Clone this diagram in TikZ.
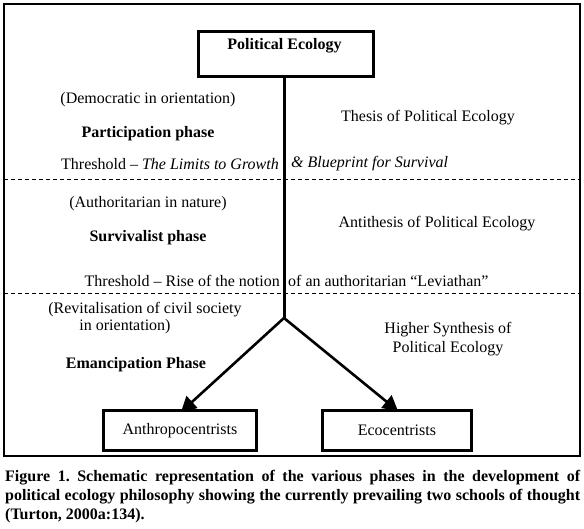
\documentclass[tikz,border=0pt]{standalone}
\usepackage{fontspec}
\setmainfont{Liberation Serif}
\usetikzlibrary{arrows.meta}
\frenchspacing
\begin{document}
\begin{tikzpicture}[x=1pt,y=-1pt,
  txt/.style={font=\fontsize{16}{19}\selectfont, inner sep=0pt},
  btxt/.style={font=\fontsize{16}{19}\selectfont\bfseries, inner sep=0pt},
  boxnode/.style={draw, line width=2.8pt, inner sep=0pt, font=\fontsize{16}{19}\selectfont},
  conn/.style={line width=3pt},
  arr/.style={line width=2.6pt, -{Triangle[length=15pt,width=16pt]}},
  sep/.style={line width=0.8pt, dash pattern=on 4pt off 3pt}]
\useasboundingbox (0,0) rectangle (584,529);
\fill[white] (0,0) rectangle (584,529);
\draw[line width=2pt] (4,4) rectangle (580,456);
\node[boxnode, minimum width=175pt, minimum height=45pt, anchor=north west] (pe) at (197,30) {};
\node[btxt] (pet) at (284.5,46) {Political Ecology};
\coordinate (top) at (284,75);
\coordinate (fork) at (284,318);
\draw[conn] (pe.south -| top) -- (fork);
\draw[sep] (4,179) -- (580,179);
\draw[sep] (4,293) -- (580,293);
\node[boxnode, minimum width=153pt, minimum height=40pt, anchor=north west] (an) at (102,409) {Anthropocentrists};
\node[boxnode, minimum width=149pt, minimum height=40pt, anchor=north west] (ec) at (321,409) {Ecocentrists};
\coordinate (la) at (181,412);
\coordinate (ra) at (398,411);
\draw[arr] (fork) -- (la);
\draw[arr] (fork) -- (ra);
\node[txt] (d1) at (148,100) {(Democratic in orientation)};
\node[btxt] (p1) at (148,134) {Participation phase};
\node[txt] (t1) at (428,118) {Thesis of Political Ecology};
\node[txt, anchor=east] (th1a) at (279,164) {Threshold -- \textit{The Limits to Growth}};
\node[txt, anchor=west] (th1b) at (291,164) {\textit{\& Blueprint for Survival}};
\node[txt] (d2) at (148,204) {(Authoritarian in nature)};
\node[btxt] (p2) at (148,238) {Survivalist phase};
\node[txt] (t2) at (437,224) {Antithesis of Political Ecology};
\node[txt, anchor=east] (th2a) at (280,281) {Threshold -- Rise of the notion};
\node[txt, anchor=west] (th2b) at (288,281) {of an authoritarian “Leviathan”};
\node[txt] (d3a) at (145,310) {(Revitalisation of civil society};
\node[txt] (d3b) at (125,327) {in orientation)};
\node[txt] (t3a) at (448,330) {Higher Synthesis of};
\node[txt] (t3b) at (448,349) {Political Ecology};
\node[btxt] (p3) at (136,365) {Emancipation Phase};
\node[inner sep=0pt, anchor=north west, text width=575pt, align=justify, font=\fontsize{16}{19}\selectfont\bfseries] (cap) at (5,470) {\tolerance=9999 Figure 1. Schematic representation of the various phases in the development of\linebreak political ecology philosophy showing the currently prevailing two schools of thought\linebreak (Turton, 2000a:134).};
\end{tikzpicture}
\end{document}
